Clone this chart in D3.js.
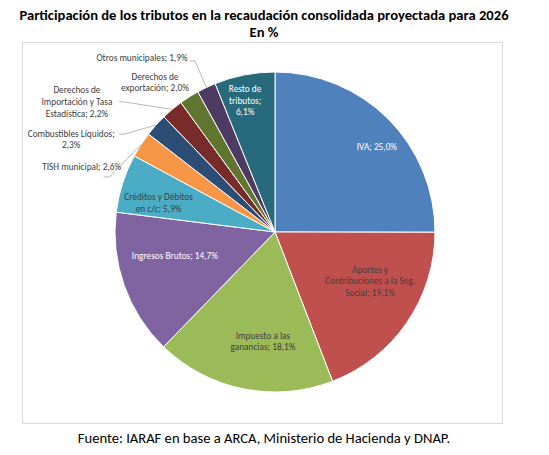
<!DOCTYPE html>
<html>
<head>
<meta charset="utf-8">
<script src="https://cdn.jsdelivr.net/npm/d3@7"></script>
<style>
  body { margin: 0; background: #fff; }
  svg text { font-family: Carlito, Calibri, Lato, "Noto Sans", sans-serif; }
</style>
</head>
<body>
<script>
const categories = [
  "IVA",
  "Aportes y Contribuciones a la Seg. Social",
  "Impuesto a las ganancias",
  "Ingresos Brutos",
  "Créditos y Débitos en c/c",
  "TISH municipal",
  "Combustibles Líquidos",
  "Derechos de Importación y Tasa Estadística",
  "Derechos de exportación",
  "Otros municipales",
  "Resto de tributos"
];
const values = [25.0, 19.1, 18.1, 14.7, 5.9, 2.6, 2.3, 2.2, 2.0, 1.9, 6.1];
const colors = [
  "#4f81bd", "#c0504d", "#9bbb59", "#8064a2", "#4bacc6", "#f79646",
  "#2c4d75", "#772c2a", "#5f7530", "#4d3b62", "#276a7c"
];
const title = "Participación de los tributos en la recaudación consolidada proyectada para 2026";
const subtitle = "En %";
const source = "Fuente: IARAF en base a ARCA, Ministerio de Hacienda y DNAP.";

// label layout: polar position of label centre (deg clockwise from top, px),
// words per line, text colour, leader end relative to label centre
const labelLayout = [
  { a: 50, r: 133, words: [3], fill: "#fff" },
  { a: 117.3, r: 107, words: [2, 4, 2], fill: "#404040" },
  { a: 186.3, r: 110, words: [3, 2], fill: "#404040" },
  { a: 256.5, r: 103, words: [4], fill: "#fff" },
  { a: 284, r: 120, words: [3, 3], fill: "#404040" },
  { a: 288.6, r: 204, words: [4], fill: "#404040", lead: [[22, 10], [28, 10]] },
  { a: 294.5, r: 224, words: [2, 1], fill: "#404040", lead: [[48, -5], [53, -5]] },
  { a: 303.3, r: 237, words: [2, 3, 2], fill: "#404040", lead: [[42, 0], [47, 0]] },
  { a: 321.3, r: 192, words: [2, 2], fill: "#404040" },
  { a: 322.6, r: 219, words: [4], fill: "#404040", lead: [[48, 3], [53, 3]] },
  { a: 347.2, r: 135, words: [2, 1, 1], fill: "#fff" }
];

const width = 549;
const height = 455;
const cx = 275;
const cy = 232;
const radius = 160;

const svg = d3
  .select("body")
  .append("svg")
  .attr("width", width)
  .attr("height", height);

svg
  .append("text")
  .attr("x", 264)
  .attr("y", 20)
  .attr("text-anchor", "middle")
  .style("font-size", "14.6px")
  .style("font-weight", "bold")
  .text(title);

svg
  .append("text")
  .attr("x", 264)
  .attr("y", 37)
  .attr("text-anchor", "middle")
  .style("font-size", "14.6px")
  .style("font-weight", "bold")
  .text(subtitle);

svg
  .append("rect")
  .attr("x", 22.5)
  .attr("y", 42.5)
  .attr("width", 480)
  .attr("height", 381)
  .attr("fill", "#fff")
  .attr("stroke", "#d9d9d9");

svg
  .append("text")
  .attr("x", 264)
  .attr("y", 443)
  .attr("text-anchor", "middle")
  .style("font-size", "14.6px")
  .text(source);

const pie = d3.pie().sort(null).value((d) => d);
const arcs = pie(values);
const arc = d3.arc().innerRadius(0).outerRadius(radius);

const g = svg.append("g").attr("transform", `translate(${cx},${cy})`);

g.selectAll("path")
  .data(arcs)
  .enter()
  .append("path")
  .attr("d", arc)
  .attr("fill", (d, i) => colors[i])
  .attr("stroke", "#fff")
  .attr("stroke-width", 1);

const fmt = (v) => d3.format(".1f")(v).replace(".", ",") + "%";
const polar = (deg, r) => {
  const t = (deg * Math.PI) / 180;
  return [r * Math.sin(t), -r * Math.cos(t)];
};

arcs.forEach((d, i) => {
  const lay = labelLayout[i];
  const words = `${categories[i]}; ${fmt(values[i])}`.split(" ");
  const lines = [];
  let k = 0;
  lay.words.forEach((n) => {
    lines.push(words.slice(k, k + n).join(" "));
    k += n;
  });
  const [lx, ly] = polar(lay.a, lay.r);
  const lh = 11.7;

  if (lay.lead) {
    const mid = (d.startAngle + d.endAngle) / 2;
    const start = [radius * Math.sin(mid), -radius * Math.cos(mid)];
    const pts = lay.lead.map((p) => [lx + p[0], ly + p[1]]).concat([start]);
    g.append("path")
      .attr("d", d3.line()(pts))
      .attr("fill", "none")
      .attr("stroke", "#a6a6a6")
      .attr("stroke-width", 0.8);
  }

  const t = g
    .append("text")
    .attr("text-anchor", "middle")
    .attr("fill", lay.fill)
    .style("font-size", "9.3px");
  lines.forEach((s, j) => {
    t.append("tspan")
      .attr("x", lx)
      .attr("y", ly + (j - (lines.length - 1) / 2) * lh + 3.3)
      .text(s);
  });
});
</script>
</body>
</html>
